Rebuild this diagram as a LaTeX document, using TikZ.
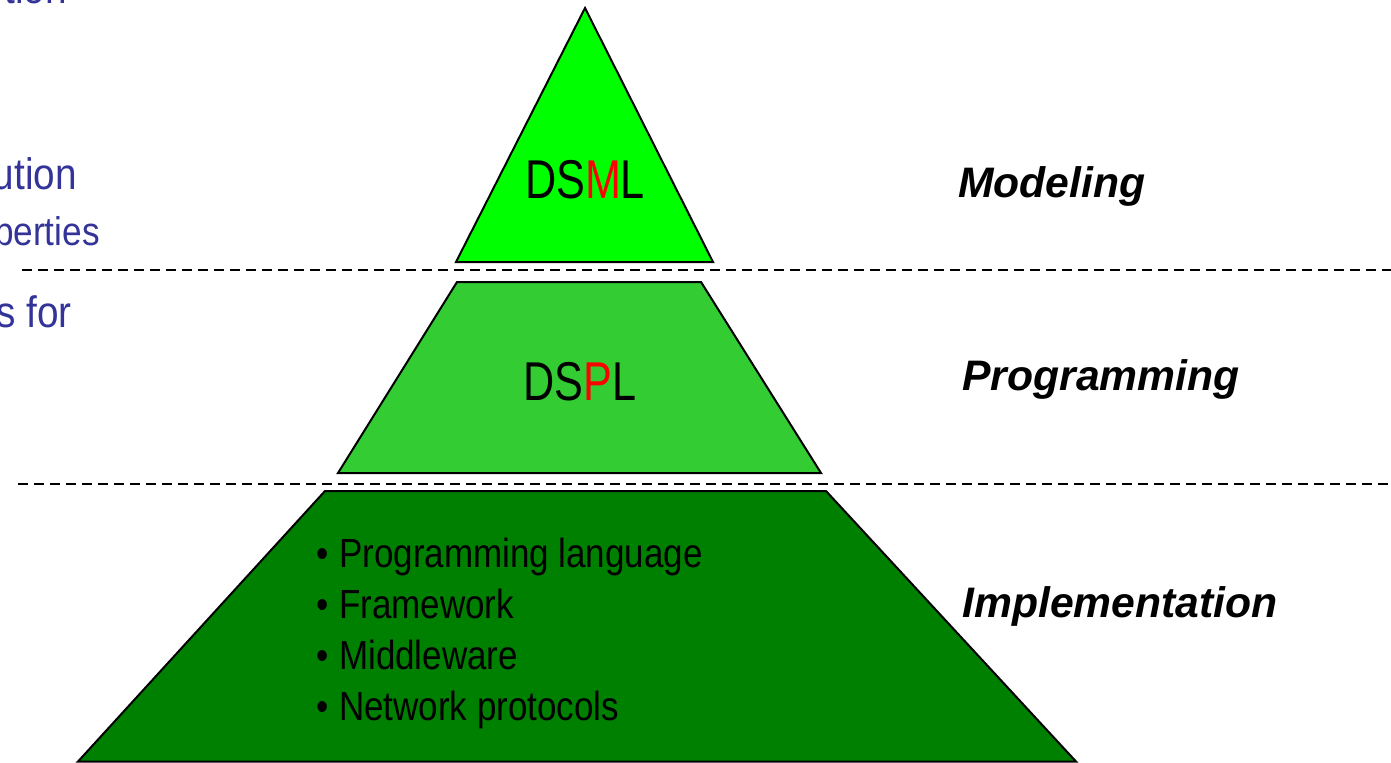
\documentclass[tikz,border=0pt]{standalone}
\usepackage{fontspec}
\setmainfont{Liberation Sans}
\newfontfamily\tierfont[FakeStretch=0.79]{Liberation Sans}
\newfontfamily\listfont[FakeStretch=0.86]{Liberation Sans}
\newfontfamily\sidefont[FakeStretch=0.88]{Liberation Sans}
\definecolor{topgreen}{HTML}{00FF00}
\definecolor{midgreen}{HTML}{33CC33}
\definecolor{basegreen}{HTML}{008000}
\definecolor{noteblue}{HTML}{333399}
\definecolor{accent}{HTML}{FF0000}
\tikzset{
  tier/.style={draw=black, line width=1.5pt, line join=miter},
  divider/.style={draw=black, line width=1.7pt, dash pattern=on 7.5pt off 4.5pt},
  tiername/.style={inner sep=0pt, anchor=base, font=\tierfont\fontsize{41}{41}\selectfont},
  item/.style={inner sep=0pt, anchor=base west, font=\listfont\fontsize{30.5}{30.5}\selectfont},
  level/.style={inner sep=0pt, anchor=base west, font=\bfseries\itshape\fontsize{32}{32}\selectfont},
  note/.style={inner sep=0pt, anchor=base east, text=noteblue, font=\sidefont\fontsize{33}{33}\selectfont},
  smallnote/.style={note, font=\sidefont\fontsize{30}{30}\selectfont}
}
\begin{document}
\begin{tikzpicture}[x=0.75pt, y=-0.75pt]
\useasboundingbox (0,0) rectangle (1391,763);
\clip (0,0) rectangle (1391,763);

% dashed separators between the levels
\draw[divider] (22,270) -- (1391,270);
\draw[divider] (18,484) -- (1391,484);

% the three tiers of the pyramid
\draw[tier, fill=topgreen] (585,8) -- (713,262) -- (456,262) -- cycle;
\draw[tier, fill=midgreen] (457,282) -- (701,282) -- (821,473) -- (338,473) -- cycle;
\draw[tier, fill=basegreen] (325,491) -- (826,491) -- (1076,761.5) -- (78,761.5) -- cycle;

% tier captions
\node[tiername] (dsml) at (585,199) {DS\textcolor{accent}{M}L};
\node[tiername] (dspl) at (580,400) {DS\textcolor{accent}{P}L};

% implementation items
\node[item] (lang) at (316,567) {\textbullet\hspace{8pt}Programming language};
\node[item] (fw)   at (316,618) {\textbullet\hspace{8pt}Framework};
\node[item] (mw)   at (316,669) {\textbullet\hspace{8pt}Middleware};
\node[item] (net)  at (316,720) {\textbullet\hspace{8pt}Network protocols};

% level names
\node[level] (modeling) at (958,197) {Modeling};
\node[level] (programming) at (962,390) {Programming};
\node[level] (implementation) at (962,617) {Implementation};

% side notes running off the left edge
\node[note] (n0) at (67,4) {tion};
\node[note] (n1) at (77,190) {ution};
\node[smallnote] (n2) at (100,245) {perties};
\node[note] (n3) at (72,327) {s for};
\end{tikzpicture}
\end{document}
